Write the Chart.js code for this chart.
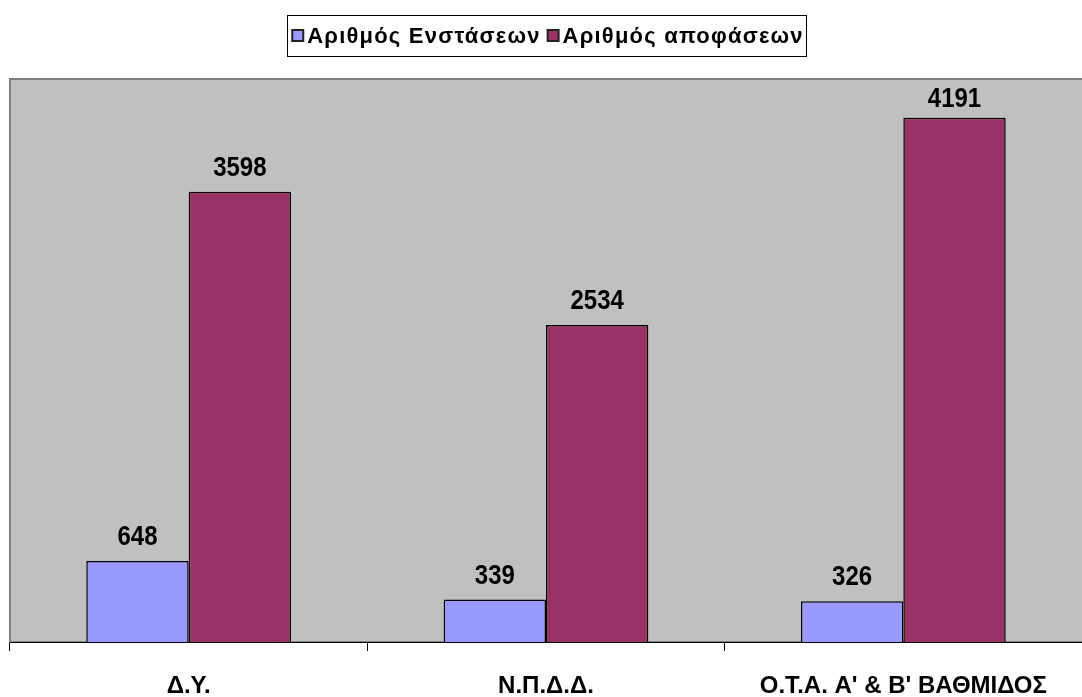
<!DOCTYPE html>
<html>
<head>
<meta charset="utf-8">
<script src="https://cdn.jsdelivr.net/npm/chart.js@4"></script>
<style>
  html, body { margin: 0; padding: 0; background: #fff; }
  #wrap { width: 1082px; height: 697px; }
</style>
</head>
<body>
<div id="wrap"><canvas id="chart"></canvas></div>
<script>
const categories = ["Δ.Υ.", "Ν.Π.Δ.Δ.", "Ο.Τ.Α. Α' & Β' ΒΑΘΜΙΔΟΣ"];
const objections = [648, 339, 326];
const decisions = [3598, 2534, 4191];
const seriesNames = ["Αριθμός Ενστάσεων", "Αριθμός αποφάσεων"];
const seriesColors = ["#9999ff", "#993366"];
const yMax = 4500;

const fontFamily = "'Liberation Sans', Arial, sans-serif";

// grey plot area with a darker edge
const plotBackground = {
  id: "plotBackground",
  beforeDraw(chart) {
    const { ctx, chartArea: a } = chart;
    ctx.save();
    ctx.fillStyle = "#c0c0c0";
    ctx.fillRect(a.left, a.top, a.right - a.left, a.bottom - a.top);
    ctx.strokeStyle = "#808080";
    ctx.lineWidth = 2;
    ctx.strokeRect(a.left, a.top, a.right - a.left + 2, a.bottom - a.top);
    ctx.restore();
  }
};

// boxed legend at the top, drawn by hand for the wide lettering
const boxedLegend = {
  id: "boxedLegend",
  afterDraw(chart) {
    const ctx = chart.ctx;
    ctx.save();
    ctx.font = "bold 22px " + fontFamily;
    ctx.letterSpacing = "1.2px";
    const marker = 11, gap = 4, itemGap = 7;
    const widths = seriesNames.map(n => ctx.measureText(n).width);
    let total = 0;
    widths.forEach((w, i) => { total += marker + gap + w + (i ? itemGap : 0); });
    const cx = 548, cy = 36;
    let x = cx - total / 2;
    ctx.strokeStyle = "#000";
    ctx.lineWidth = 1;
    ctx.strokeRect(Math.round(x - 5) + 0.5, 15.5, Math.round(total + 8), 41);
    ctx.textBaseline = "middle";
    seriesNames.forEach((name, i) => {
      ctx.fillStyle = seriesColors[i];
      ctx.fillRect(x, cy - 6, marker, marker);
      ctx.strokeStyle = "#222";
      ctx.lineWidth = 2;
      ctx.strokeRect(x, cy - 6, marker, marker);
      ctx.fillStyle = "#000";
      ctx.fillText(name, x + marker + gap, cy + 1);
      x += marker + gap + widths[i] + itemGap;
    });
    ctx.restore();
  }
};

// value labels above bars, slightly tall lettering
const valueLabels = {
  id: "valueLabels",
  afterDatasetsDraw(chart) {
    const ctx = chart.ctx;
    ctx.save();
    ctx.font = "bold 24px " + fontFamily;
    ctx.fillStyle = "#000";
    ctx.textAlign = "center";
    ctx.textBaseline = "alphabetic";
    chart.data.datasets.forEach((ds, i) => {
      chart.getDatasetMeta(i).data.forEach((bar, j) => {
        ctx.save();
        ctx.translate(bar.x, Math.max(bar.y - 16, chart.chartArea.top + 28));
        ctx.scale(1, 1.16);
        ctx.fillText(ds.data[j], 0, 0);
        ctx.restore();
      });
    });
    ctx.restore();
  }
};

new Chart(document.getElementById("chart"), {
  type: "bar",
  data: {
    labels: categories,
    datasets: [{
      label: seriesNames[0],
      data: objections,
      backgroundColor: seriesColors[0],
      borderColor: "#000",
      borderWidth: 1.5
    }, {
      label: seriesNames[1],
      data: decisions,
      backgroundColor: seriesColors[1],
      borderColor: "#000",
      borderWidth: 1.5
    }]
  },
  options: {
    responsive: true,
    maintainAspectRatio: false,
    animation: false,
    categoryPercentage: 0.573,
    barPercentage: 1,
    layout: { padding: { top: 79, left: 10, right: 0, bottom: 0 } },
    plugins: {
      legend: { display: false },
      tooltip: { enabled: false }
    },
    scales: {
      x: {
        afterFit(scale) {
          scale.height = 55;
          scale.paddingLeft = 0;
          scale.paddingRight = 0;
        },
        grid: {
          offset: true,
          drawOnChartArea: false,
          color: "#000",
          tickLength: 9
        },
        border: { color: "#000", width: 1 },
        ticks: {
          color: "#000",
          padding: 21,
          maxRotation: 0,
          autoSkip: false,
          font: { family: fontFamily, size: 24, weight: "bold" }
        }
      },
      y: {
        display: false,
        min: 0,
        max: yMax
      }
    }
  },
  plugins: [plotBackground, boxedLegend, valueLabels]
});
</script>
</body>
</html>
